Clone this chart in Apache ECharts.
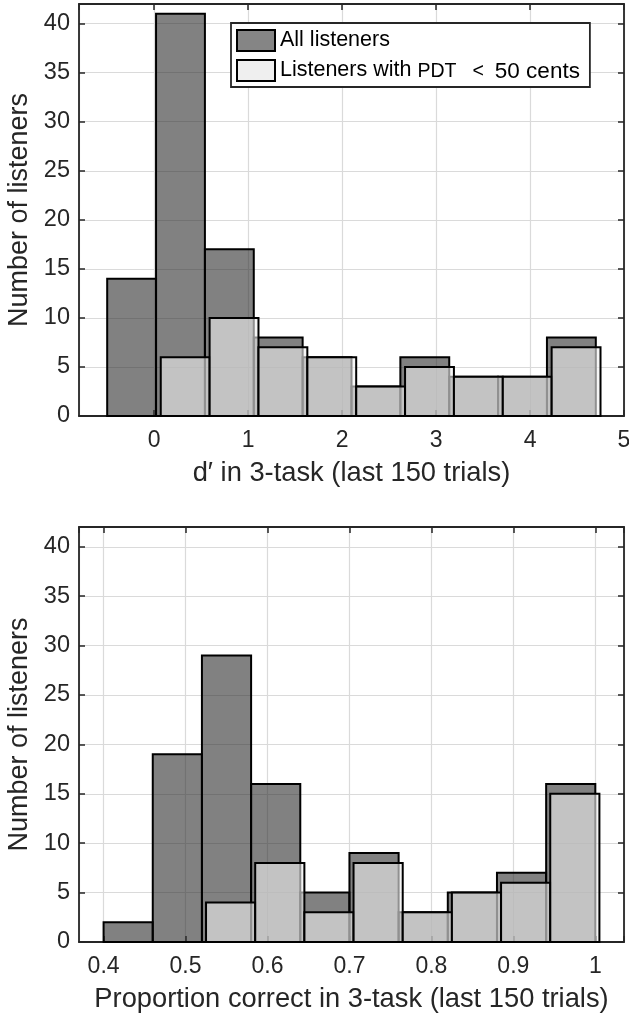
<!DOCTYPE html>
<html>
<head>
<meta charset="utf-8">
<script src="https://cdn.jsdelivr.net/npm/echarts@6/dist/echarts.min.js"></script>
<style>
html,body{margin:0;padding:0;background:#fff;}
#chart{width:629px;height:1018px;}
</style>
</head>
<body>
<div id="chart"></div>
<script>
// ---- data ----
const seriesNames = ['All listeners', 'Listeners with PDT < 50 cents'];

// top panel: d' in 3-task
const topAllEdges = [-0.50, 0.02, 0.54, 1.06, 1.58, 2.10, 2.62, 3.14, 3.66, 4.18, 4.70];
const topAllCounts = [14, 41, 17, 8, 6, 3, 6, 4, 4, 8];
const topSubEdges = [0.07, 0.59, 1.11, 1.63, 2.15, 2.67, 3.19, 3.71, 4.23, 4.75];
const topSubCounts = [6, 10, 7, 6, 3, 5, 4, 4, 7];
const topXLabel = 'd\u2032 in 3-task (last 150 trials)';

// bottom panel: proportion correct
const botAllEdges = [0.40, 0.46, 0.52, 0.58, 0.64, 0.70, 0.76, 0.82, 0.88, 0.94, 1.00];
const botAllCounts = [2, 19, 29, 16, 5, 9, 3, 5, 7, 16];
const botSubEdges = [0.525, 0.585, 0.645, 0.705, 0.765, 0.825, 0.885, 0.945, 1.005];
const botSubCounts = [4, 8, 3, 8, 3, 5, 6, 15];
const botXLabel = 'Proportion correct in 3-task (last 150 trials)';

const yLabel = 'Number of listeners';

// ---- helpers ----
function bins(edges, counts) {
  return counts.map((c, i) => [edges[i], edges[i + 1], c]);
}
const FONT = "'Liberation Sans', Arial, Helvetica, sans-serif";
const TXT = '#262626';
const AX = '#262626';
const DARK_FILL = 'rgba(45,45,45,0.6)';
const LIGHT_FILL = 'rgba(240,240,240,0.6)';

function makeRender(fill) {
  return function (params, api) {
    const p0 = api.coord([api.value(0), api.value(2)]);
    const p1 = api.coord([api.value(1), 0]);
    return {
      type: 'rect',
      shape: { x: p0[0], y: p0[1], width: p1[0] - p0[0], height: p1[1] - p0[1] },
      style: { fill: fill, stroke: '#000', lineWidth: 2 }
    };
  };
}

function xMain(gridIndex, min, max, name, fmt, nameGap) {
  return {
    type: 'value', gridIndex, min, max, splitNumber: 5, position: 'bottom',
    name, nameLocation: 'middle', nameGap,
    nameTextStyle: { fontFamily: FONT, fontSize: 27.3, color: TXT },
    axisLine: { show: true, onZero: false, lineStyle: { color: AX, width: 1.8 } },
    axisTick: { show: true, inside: true, length: 6, lineStyle: { color: AX, width: 1.5 } },
    axisLabel: { show: true, margin: 13, fontFamily: FONT, fontSize: 23, color: TXT, formatter: fmt,
                 showMinLabel: false, showMaxLabel: true },
    splitLine: { show: true, lineStyle: { color: '#dadada', width: 1.2 } }
  };
}
function xTop(gridIndex, min, max) {
  return {
    type: 'value', gridIndex, min, max, splitNumber: 5, position: 'top',
    axisLine: { show: true, onZero: false, lineStyle: { color: AX, width: 1.8 } },
    axisTick: { show: true, inside: true, length: 6, lineStyle: { color: AX, width: 1.5 } },
    axisLabel: { show: false }, splitLine: { show: false }
  };
}
function yMain(gridIndex) {
  return {
    type: 'value', gridIndex, min: 0, max: 42, interval: 5, position: 'left',
    name: yLabel, nameLocation: 'middle', nameGap: 42,
    nameTextStyle: { fontFamily: FONT, fontSize: 27, color: TXT },
    axisLine: { show: true, onZero: false, lineStyle: { color: AX, width: 1.8 } },
    axisTick: { show: true, inside: true, length: 6, lineStyle: { color: AX, width: 1.5 } },
    axisLabel: { show: true, margin: 9, fontFamily: FONT, fontSize: 23.5, color: TXT,
                 formatter: v => (v % 5 === 0 ? String(v) : ''), showMaxLabel: false },
    splitLine: { show: true, lineStyle: { color: '#dadada', width: 1.2 } }
  };
}
function yRight(gridIndex) {
  return {
    type: 'value', gridIndex, min: 0, max: 42, interval: 5, position: 'right',
    axisLine: { show: true, onZero: false, lineStyle: { color: AX, width: 1.8 } },
    axisTick: { show: true, inside: true, length: 6, lineStyle: { color: AX, width: 1.5 } },
    axisLabel: { show: false }, splitLine: { show: false }
  };
}

const fmtTop = v => (Math.abs(v - Math.round(v)) < 1e-6 ? String(Math.round(v)) : '');
const fmtBot = v => (Math.abs(v * 10 - Math.round(v * 10)) < 1e-6 ? String(+(Math.round(v * 10) / 10).toFixed(1)) : '');

const option = {
  backgroundColor: '#fff',
  animation: false,
  grid: [
    { left: 79, top: 4, width: 545, height: 412, outerBoundsMode: 'none', containLabel: false },
    { left: 79, top: 527, width: 545, height: 415, outerBoundsMode: 'none', containLabel: false }
  ],
  xAxis: [
    xMain(0, -0.8, 5, topXLabel, fmtTop, 44),
    xTop(0, -0.8, 5),
    xMain(1, 0.37, 1.035, botXLabel, fmtBot, 44),
    xTop(1, 0.37, 1.035)
  ],
  yAxis: [yMain(0), yRight(0), yMain(1), yRight(1)],
  legend: {
    left: 231, top: 23, orient: 'vertical',
    backgroundColor: '#fff', borderColor: AX, borderWidth: 1.8,
    padding: [6, 10, 4, 5], itemGap: 7, itemWidth: 38, itemHeight: 21,
    textStyle: { fontFamily: FONT, fontSize: 21.5, color: '#000',
      rich: {
        p: { fontFamily: FONT, fontSize: 19.5, color: '#000', padding: [2, 0, 0, 6] },
        lt: { fontFamily: FONT, fontSize: 19.5, color: '#000', padding: [2, 0, 0, 16] },
        n: { fontFamily: FONT, fontSize: 22.5, color: '#000', padding: [2, 0, 0, 11] }
      } },
    formatter: n => (n === seriesNames[1] ? 'Listeners with{p|PDT}{lt|<}{n|50 cents}' : n),
    data: [
      { name: seriesNames[0], icon: 'rect', itemStyle: { color: '#858585', borderColor: '#000', borderWidth: 2 } },
      { name: seriesNames[1], icon: 'rect', itemStyle: { color: '#efefef', borderColor: '#000', borderWidth: 2 } }
    ]
  },
  series: [
    { name: seriesNames[0], type: 'custom', xAxisIndex: 0, yAxisIndex: 0, renderItem: makeRender(DARK_FILL),
      encode: { x: [0, 1], y: 2 }, data: bins(topAllEdges, topAllCounts), itemStyle: { color: '#858585' } },
    { name: seriesNames[1], type: 'custom', xAxisIndex: 0, yAxisIndex: 0, renderItem: makeRender(LIGHT_FILL),
      encode: { x: [0, 1], y: 2 }, data: bins(topSubEdges, topSubCounts), itemStyle: { color: '#efefef' } },
    { name: seriesNames[0], type: 'custom', xAxisIndex: 2, yAxisIndex: 2, renderItem: makeRender(DARK_FILL),
      encode: { x: [0, 1], y: 2 }, data: bins(botAllEdges, botAllCounts), itemStyle: { color: '#858585' } },
    { name: seriesNames[1], type: 'custom', xAxisIndex: 2, yAxisIndex: 2, renderItem: makeRender(LIGHT_FILL),
      encode: { x: [0, 1], y: 2 }, data: bins(botSubEdges, botSubCounts), itemStyle: { color: '#efefef' } }
  ]
};

const chart = echarts.init(document.getElementById('chart'), null, { renderer: 'canvas' });
chart.setOption(option);
</script>
</body>
</html>
